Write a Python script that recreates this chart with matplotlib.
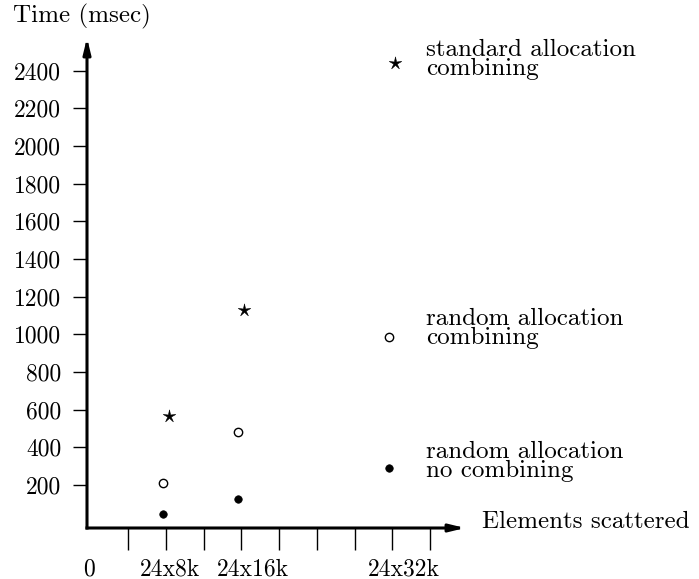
import matplotlib
matplotlib.use("Agg")
import matplotlib.pyplot as plt
import numpy as np
from matplotlib.path import Path
from matplotlib.transforms import ScaledTranslation, blended_transform_factory

plt.rcParams['font.family'] = 'cmr10'
plt.rcParams['mathtext.fontset'] = 'cm'
plt.rcParams['axes.formatter.use_mathtext'] = True

# ---- data ----
sizes_k = [8, 16, 32]                 # elements scattered (24 x N k)
std_comb = [568, 1130, 2443]          # standard allocation, combining
rand_comb = [209, 483, 988]           # random allocation, combining
rand_nocomb = [46, 126, 289]          # random allocation, no combining

x_tick_vals = [4, 8, 12, 16, 20, 24, 28, 32, 36]
x_label_vals = [0, 8, 16, 32]
x_label_text = ['0', '24x8k', '24x16k', '24x32k']
y_tick_vals = [200, 400, 600, 800, 1000, 1200, 1400, 1600, 1800, 2000, 2200, 2400]

series_labels = ['standard allocation\ncombining',
                 'random allocation\ncombining',
                 'random allocation\nno combining']

# ---- figure ----
W, H = 699, 579
fig = plt.figure(figsize=(W / 100, H / 100), dpi=100)
ax = fig.add_axes([87 / W, 1 - 528 / H, 378 / W, 490 / H])
ax.set_xlim(-0.38, 39.7)
ax.set_ylim(-28, 2574)
for s in ax.spines.values():
    s.set_visible(False)

FS_TICK = 17
FS_TITLE = 18
FS_NOTE = 18

# axes arrows
arrow_kw = dict(arrowstyle='-|>,head_length=0.9,head_width=0.22', lw=2.2,
                color='black', shrinkA=0, shrinkB=0, mutation_scale=10,
                capstyle='projecting')
ax.annotate('', xy=(0, 1), xytext=(0, 0), xycoords='axes fraction',
            textcoords='axes fraction', arrowprops=arrow_kw)
ax.annotate('', xy=(1, 0), xytext=(0, 0), xycoords='axes fraction',
            textcoords='axes fraction', arrowprops=arrow_kw)

# ticks
ax.set_yticks(y_tick_vals)
ax.set_yticklabels([str(v) for v in y_tick_vals])
ax.tick_params(axis='y', direction='out', length=10, width=1.0, pad=8.6,
               labelsize=FS_TICK)
ax.set_xticks(x_tick_vals)
ax.set_xticklabels([''] * len(x_tick_vals))
ax.tick_params(axis='x', direction='out', length=15.8, width=1.0)

# x labels
label_dx = [-2, 3.5, 11, 11]
for v, t, dx in zip(x_label_vals, x_label_text, label_dx):
    tr = blended_transform_factory(ax.transData, ax.transAxes) + \
        ScaledTranslation(dx / 100, -47 / 100, fig.dpi_scale_trans)
    ax.text(v, 0, t, transform=tr, ha='center', va='baseline', fontsize=FS_TICK)

# star marker path (thin five-pointed star)
verts = []
for k in range(5):
    a = np.pi / 2 + k * 2 * np.pi / 5
    verts.append((np.cos(a), np.sin(a)))
    b = a + np.pi / 5
    verts.append((0.28 * np.cos(b), 0.28 * np.sin(b)))
verts.append(verts[0])
star = Path(verts, closed=True)

def shifted(dx):
    return ax.transData + ScaledTranslation(dx / 100, 0, fig.dpi_scale_trans)

ax.plot(sizes_k, std_comb, linestyle='none', marker=star, ms=9.5,
        color='black', mew=0.4, transform=shifted(3), clip_on=False)
ax.plot(sizes_k, rand_comb, linestyle='none', marker='o', ms=6.0,
        mfc='white', mec='black', mew=1.0, transform=shifted(-3), clip_on=False)
ax.plot(sizes_k, rand_nocomb, linestyle='none', marker='o', ms=5.4,
        mfc='black', mec='black', mew=0.5, transform=shifted(-3.5), clip_on=False)

# series annotations next to the 24x32k points (last-line baseline offset, px)
note_dy = [-12.3, -7.0, -8.8]
last_vals = [std_comb[-1], rand_comb[-1], rand_nocomb[-1]]
for lab, dy, yv in zip(series_labels, note_dy, last_vals):
    ax.annotate(lab, xy=(sizes_k[-1], yv), xytext=(34, dy),
                textcoords='offset pixels', ha='left', va='baseline',
                fontsize=FS_NOTE, linespacing=0.8, annotation_clip=False)

# axis titles
fig.text(13 / W, 1 - 22 / H, 'Time (msec)', ha='left', va='baseline',
         fontsize=FS_TITLE)
fig.text(482 / W, 1 - 528 / H, 'Elements scattered', ha='left', va='baseline',
         fontsize=FS_TITLE)

fig.savefig('out.png', dpi=100)
